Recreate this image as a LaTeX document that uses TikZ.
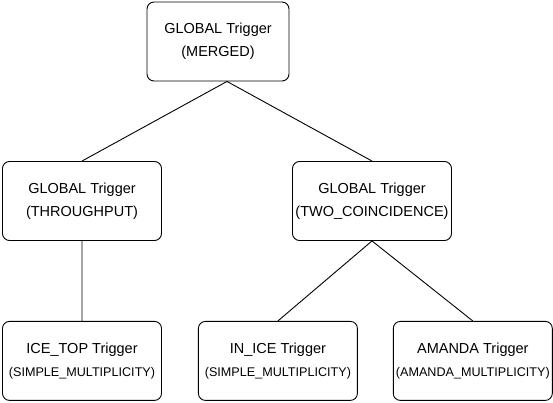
\documentclass[tikz,border=0pt]{standalone}
\usepackage{fontspec}
\setmainfont{Liberation Sans}
\usetikzlibrary{positioning}
\tikzset{trig/.style={draw, rounded corners=7pt, minimum width=159pt, minimum height=79pt,
    inner sep=0pt, align=center, font=\fontsize{14.5}{23}\selectfont}}
\newcommand{\trigmode}[1]{{\fontsize{12.6}{23}\selectfont #1}}

\begin{document}
\begin{tikzpicture}[x=1pt, y=-1pt, line width=0.9pt]
        \useasboundingbox (0,0) rectangle (553,403);
        \node[trig, minimum width=142pt] (merged) at (218,41.5) {GLOBAL Trigger\\(MERGED)};  %root
        \node[trig] (thru) at (82,201) {GLOBAL Trigger\\(THROUGHPUT)};
        \node[trig] (coinc) at (372,201) {GLOBAL Trigger\\(TWO\_COINCIDENCE)};
        \node[trig] (icetop) [below=80pt of thru] {ICE\_TOP Trigger\\\trigmode{(SIMPLE\_MULTIPLICITY)}};
        \node[trig] (inice) [right=36pt of icetop] {IN\_ICE Trigger\\\trigmode{(SIMPLE\_MULTIPLICITY)}};
        \node[trig] (amanda) [right=35pt of inice] {AMANDA Trigger\\\trigmode{(AMANDA\_MULTIPLICITY)}};
        \coordinate (fork) at ([xshift=9pt]merged.south);

        \draw
        (fork) -- (thru.north)
        (fork) -- (coinc.north)
        (thru.south) -- (icetop.north)
        (coinc.south) -- (inice.north)
        (coinc.south) -- (amanda.north);
      \end{tikzpicture}
\end{document}
